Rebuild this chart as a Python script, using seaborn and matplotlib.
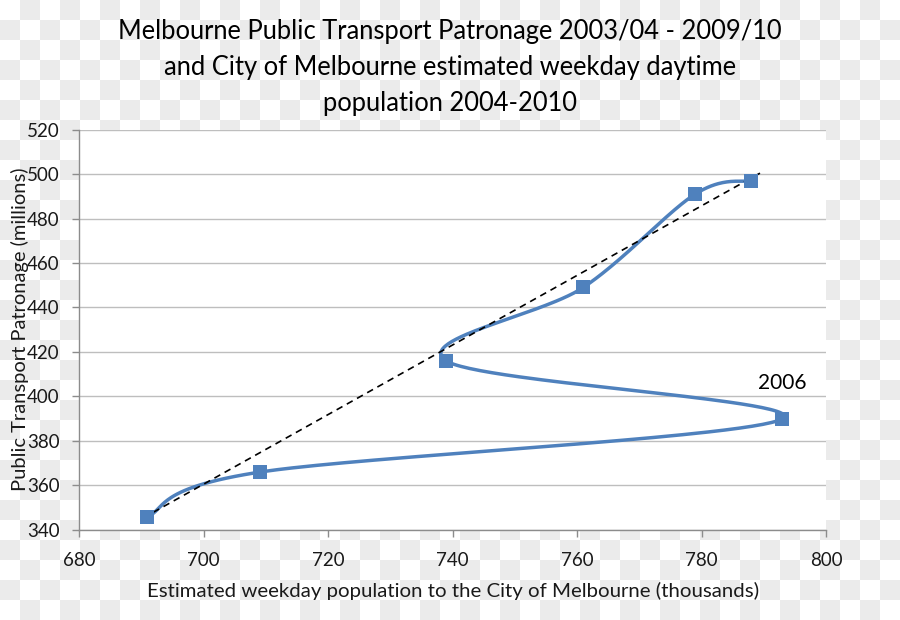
import numpy as np
import pandas as pd
import matplotlib
matplotlib.use("Agg")
import matplotlib.pyplot as plt
import seaborn as sns

# ---- data ----
years = [2004, 2005, 2006, 2007, 2008, 2009, 2010]
population = [691, 709, 793, 739, 761, 779, 788]      # thousands
patronage = [346, 366, 390, 416, 449, 491, 497]       # millions
trend_x = [690.3, 789.4]
trend_y = [345.4, 500.4]
x_ticks = [680, 700, 720, 740, 760, 780, 800]
y_ticks = [340, 360, 380, 400, 420, 440, 460, 480, 500, 520]
annot_year = 2006
title = ("Melbourne Public Transport Patronage 2003/04 - 2009/10\n"
         "and City of Melbourne estimated weekday daytime\n"
         "population 2004-2010")
xlabel = "Estimated weekday population to the City of Melbourne (thousands)"
ylabel = "Public Transport Patronage (millions)"

BLUE = "#4F81BD"

sns.set_theme(style="white")
plt.rcParams["font.family"] = ["Lato", "DejaVu Sans"]


def smooth(xs, ys, n=60):
    """Excel-like smoothing (uniform Catmull-Rom as cubic Bezier)."""
    P = np.column_stack([xs, ys]).astype(float)
    P = np.vstack([P[0], P, P[-1]])
    out = []
    t = np.linspace(0, 1, n)[:, None]
    for i in range(1, len(P) - 2):
        p0, p1, p2, p3 = P[i - 1], P[i], P[i + 1], P[i + 2]
        b1 = p1 + (p2 - p0) / 6.0
        b2 = p2 - (p3 - p1) / 6.0
        seg = ((1 - t) ** 3) * p1 + 3 * ((1 - t) ** 2) * t * b1 + 3 * (1 - t) * t ** 2 * b2 + t ** 3 * p2
        out.append(seg if i == 1 else seg[1:])
    return np.vstack(out)


fig = plt.figure(figsize=(9, 6.2), dpi=100)

# checkerboard background
yy, xx = np.mgrid[0:620, 0:900]
board = ((xx // 20 + yy // 20) % 2).astype(float)
shade = np.where(board == 1, 235 / 255, 1.0)
img = np.dstack([shade, shade, shade])
bg = fig.add_axes([0, 0, 1, 1], zorder=-5)
bg.imshow(img, aspect="auto", interpolation="nearest")
bg.axis("off")

ax = fig.add_axes([0.0878, 0.1452, 0.83, 0.6459], zorder=1)
ax.set_facecolor("white")

curve = smooth(population, patronage)
df_curve = pd.DataFrame({"x": curve[:, 0], "y": curve[:, 1]})
sns.lineplot(data=df_curve, x="x", y="y", sort=False, estimator=None,
             color=BLUE, lw=2.5, ax=ax, zorder=3)

ax.plot(trend_x, trend_y, color="black", lw=1.2, ls=(0, (4, 3)), zorder=4)

df_pts = pd.DataFrame({"year": years, "population": population, "patronage": patronage})
sns.scatterplot(data=df_pts, x="population", y="patronage", marker="s", s=88,
                color=BLUE, edgecolor=BLUE, linewidth=0, ax=ax, zorder=5)

i = years.index(annot_year)
ax.annotate(str(annot_year), xy=(population[i], patronage[i]), xytext=(0, 25.5),
            textcoords="offset points", ha="center", va="center", fontsize=15,
            color="#000000")

ax.set_xlim(x_ticks[0], x_ticks[-1])
ax.set_ylim(y_ticks[0], y_ticks[-1])
ax.set_xticks(x_ticks)
ax.set_yticks(y_ticks)
ax.yaxis.grid(True, color="#bebebe", lw=1)
ax.xaxis.grid(False)
for s in ["top", "right"]:
    ax.spines[s].set_visible(False)
for s in ["left", "bottom"]:
    ax.spines[s].set_color("#8c8c8c")
    ax.spines[s].set_linewidth(1)
ax.tick_params(axis="both", direction="out", length=5, width=1, color="#8c8c8c",
               labelsize=13.5, labelcolor="#1a1a1a", bottom=True, left=True)
ax.tick_params(axis="x", pad=11)
ax.tick_params(axis="y", pad=9)

ax.set_xlabel(xlabel, fontsize=14.7, color="#1a1a1a")
ax.set_ylabel(ylabel, fontsize=14.5, color="#1a1a1a")
ax.xaxis.set_label_coords(0.501, -0.13)
ax.yaxis.set_label_coords(-0.067, 0.5)

fig.text(0.5, 1 - 67 / 620, title, ha="center", va="center", fontsize=18.4,
         linespacing=1.55, color="#000000", zorder=2)

fig.savefig("out.png", dpi=100)
